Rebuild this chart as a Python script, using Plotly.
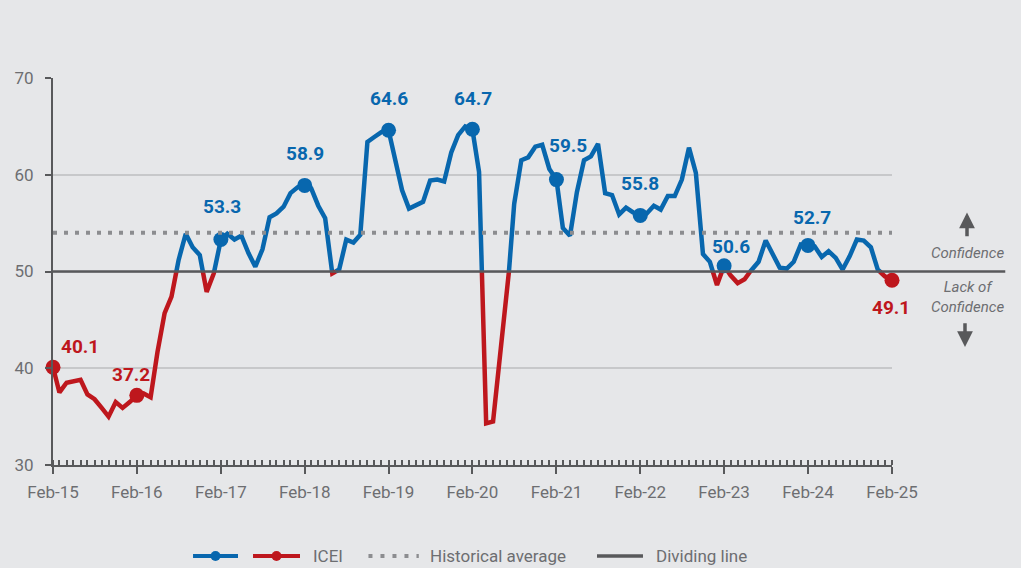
import pandas as pd
import plotly.graph_objects as go

# ---------------- data ----------------
months = pd.date_range("2015-02-01", "2025-02-01", freq="MS")
icei = [40.1, 37.5, 38.5, 38.6, 38.8, 37.3, 36.8, 35.9, 35.0, 36.5, 35.9, 36.5,
        37.2, 37.4, 37.0, 41.7, 45.7, 47.4, 51.2, 53.9, 52.5, 51.7, 47.9, 49.8,
        53.3, 53.9, 53.3, 53.7, 51.9, 50.5, 52.3, 55.6, 56.0, 56.7, 58.1, 58.7,
        58.9, 58.6, 56.8, 55.5, 49.8, 50.2, 53.3, 53.0, 53.8, 63.4, 63.9, 64.4,
        64.6, 61.8, 58.4, 56.5, 56.9, 57.2, 59.4, 59.5, 59.3, 62.3, 64.1, 65.0,
        64.7, 60.3, 34.3, 34.5, 41.0, 47.5, 57.0, 61.5, 61.8, 62.9, 63.1, 60.6,
        59.5, 54.5, 53.7, 58.2, 61.5, 61.9, 63.2, 58.1, 57.9, 55.9, 56.6, 56.1,
        55.8, 56.0, 56.8, 56.4, 57.8, 57.8, 59.5, 62.8, 60.2, 51.8, 51.0, 48.6,
        50.6, 49.6, 48.8, 49.2, 50.2, 51.0, 53.2, 51.7, 50.4, 50.3, 51.0, 52.8,
        52.7, 52.6, 51.5, 52.1, 51.4, 50.2, 51.6, 53.3, 53.2, 52.5, 50.2, 49.5,
        49.1]
historical_average = 54.0
dividing_value = 50.0
y_ticks = [30, 40, 50, 60, 70]
legend_labels = ["ICEI", "Historical average", "Dividing line"]

# labelled points: every February
label_idx = list(range(0, len(icei), 12))
# label offsets (pixels) - styling only
label_dx = [27, -6, 1, 0, 0, 1, 12, 0, 7, 4, -1]
label_dy = [21, 21, 33, 32, 32, 31, 34, 32, 19, 28, -27]

BLUE = "#0867ae"
RED = "#be171d"
GREY_TXT = "#6d6e71"
DOTS = "#8c8d90"
DARK = "#58595b"
BG = "#e6e7e9"


def split_runs(dates, vals, thr):
    segs = []
    for i in range(len(vals) - 1):
        a = (dates[i], vals[i])
        b = (dates[i + 1], vals[i + 1])
        if (a[1] - thr) * (b[1] - thr) < 0:
            f = (thr - a[1]) / (b[1] - a[1])
            c = (a[0] + (b[0] - a[0]) * f, thr)
            pieces = [(a, c), (c, b)]
        else:
            pieces = [(a, b)]
        for p, q in pieces:
            key = "hi" if (p[1] + q[1]) / 2 >= thr else "lo"
            if segs and segs[-1][0] == key and segs[-1][1][-1] == p:
                segs[-1][1].append(q)
            else:
                segs.append([key, [p, q]])
    out = {"hi": ([], []), "lo": ([], [])}
    for key, pts in segs:
        xs, ys = out[key]
        if xs:
            xs.append(None)
            ys.append(None)
        xs.extend([p[0] for p in pts])
        ys.extend([p[1] for p in pts])
    return out


runs = split_runs(list(months), icei, dividing_value)

fig = go.Figure()

fig.add_trace(go.Scatter(x=runs["hi"][0], y=runs["hi"][1], mode="lines",
                         line=dict(color=BLUE, width=4.5), showlegend=False,
                         cliponaxis=False, hoverinfo="skip"))
fig.add_trace(go.Scatter(x=runs["lo"][0], y=runs["lo"][1], mode="lines",
                         line=dict(color=RED, width=4.5), showlegend=False,
                         cliponaxis=False, hoverinfo="skip"))

lx = [months[i] for i in label_idx]
ly = [icei[i] for i in label_idx]
lc = [BLUE if v >= dividing_value else RED for v in ly]
fig.add_trace(go.Scatter(x=lx, y=ly, mode="markers",
                         marker=dict(color=lc, size=15), showlegend=False,
                         cliponaxis=False))

fig.add_trace(go.Scatter(x=[months[0], months[-1]],
                         y=[historical_average, historical_average],
                         mode="lines", line=dict(color=DOTS, width=4, dash="4px,7px"),
                         showlegend=False, hoverinfo="skip"))

# dividing line
fig.add_shape(type="line", xref="paper", x0=0, x1=1.135, yref="y",
              y0=dividing_value, y1=dividing_value,
              line=dict(color=DARK, width=2.5), layer="above")

# value labels
for k, i in enumerate(label_idx):
    v = icei[i]
    fig.add_annotation(x=months[i], y=v, text=f"{v:.1f}", showarrow=False,
                       xshift=label_dx[k], yshift=label_dy[k],
                       font=dict(family="Roboto", size=19,
                                 color=BLUE if v >= dividing_value else RED,
                                 weight="bold"))

# right-hand notes
fig.add_annotation(xref="paper", yref="y", x=1.0894, y=56.1, axref="pixel", ax=0,
                   ayref="y", ay=53.5, text="", showarrow=True,
                   arrowhead=2, arrowsize=0.9, arrowwidth=3.5, arrowcolor=DARK)
fig.add_annotation(xref="paper", yref="y", x=1.087, y=42.2, axref="pixel", ax=0,
                   ayref="y", ay=44.8, text="", showarrow=True,
                   arrowhead=2, arrowsize=0.9, arrowwidth=3.5, arrowcolor=DARK)
fig.add_annotation(xref="paper", yref="y", x=1.0894, y=51.9, xanchor="center",
                   text="<i>Confidence</i>",
                   showarrow=False, font=dict(family="Roboto", size=15, color=GREY_TXT))
fig.add_annotation(xref="paper", yref="y", x=1.0894, y=47.4, xanchor="center",
                   text="<i>Lack of</i><br><i>Confidence</i>",
                   showarrow=False, font=dict(family="Roboto", size=15, color=GREY_TXT))

# ---------------- legend (drawn) ----------------
LY = -0.235
leg_line = dict(xref="paper", yref="paper", type="line", y0=LY, y1=LY, layer="above")
fig.add_shape(x0=0.1669, x1=0.2205, line=dict(color=BLUE, width=4), **leg_line)
fig.add_shape(x0=0.2384, x1=0.2944, line=dict(color=RED, width=4), **leg_line)
fig.add_shape(x0=0.3760, x1=0.4360, line=dict(color=DOTS, width=4, dash="4px,8px"), **leg_line)
fig.add_shape(x0=0.6484, x1=0.7032, line=dict(color=DARK, width=3.5), **leg_line)
for cx, col in [(0.1937, BLUE), (0.2664, RED)]:
    fig.add_shape(type="circle", xref="paper", yref="paper", xsizemode="pixel",
                  ysizemode="pixel", xanchor=cx, yanchor=LY, x0=-5, x1=5, y0=-5, y1=5,
                  fillcolor=col, line=dict(width=0), layer="above")
for tx, txt in zip([0.3075, 0.4470, 0.7163], legend_labels):
    fig.add_annotation(xref="paper", yref="paper", x=tx, y=LY, text=txt,
                       xanchor="left", yanchor="middle", showarrow=False,
                       font=dict(family="Roboto", size=17, color=GREY_TXT))

fig.update_layout(
    width=1021, height=568,
    margin=dict(l=53, r=129, t=78, b=103),
    paper_bgcolor=BG, plot_bgcolor=BG,
    font=dict(family="Roboto", size=17, color=GREY_TXT),
    showlegend=False,
    xaxis=dict(range=[months[0], months[-1]], type="date",
               tick0=months[0], dtick="M12", tickformat="%b-%y",
               showgrid=False, zeroline=False,
               showline=True, linecolor=DARK, linewidth=2,
               ticks="outside", ticklen=7, tickwidth=2, tickcolor=DARK,
               ticklabelstandoff=4,
               minor=dict(dtick="M1", ticks="inside", ticklen=5, tickwidth=1.5,
                          tickcolor=DARK, showgrid=False),
               tickfont=dict(family="Roboto", size=17, color=GREY_TXT)),
    yaxis=dict(range=[30, 70], tickvals=y_ticks,
               showgrid=True, gridcolor="#c7c8ca", gridwidth=1.5,
               zeroline=False, showline=True, linecolor=DARK, linewidth=2,
               ticks="outside", ticklen=6, tickwidth=2, tickcolor=DARK,
               ticklabelstandoff=8,
               tickfont=dict(family="Roboto", size=17, color=GREY_TXT)),
)

fig.write_html("out.html", config={"displayModeBar": False},
               post_script="document.body.style.margin='0';document.body.style.overflow='hidden';")
